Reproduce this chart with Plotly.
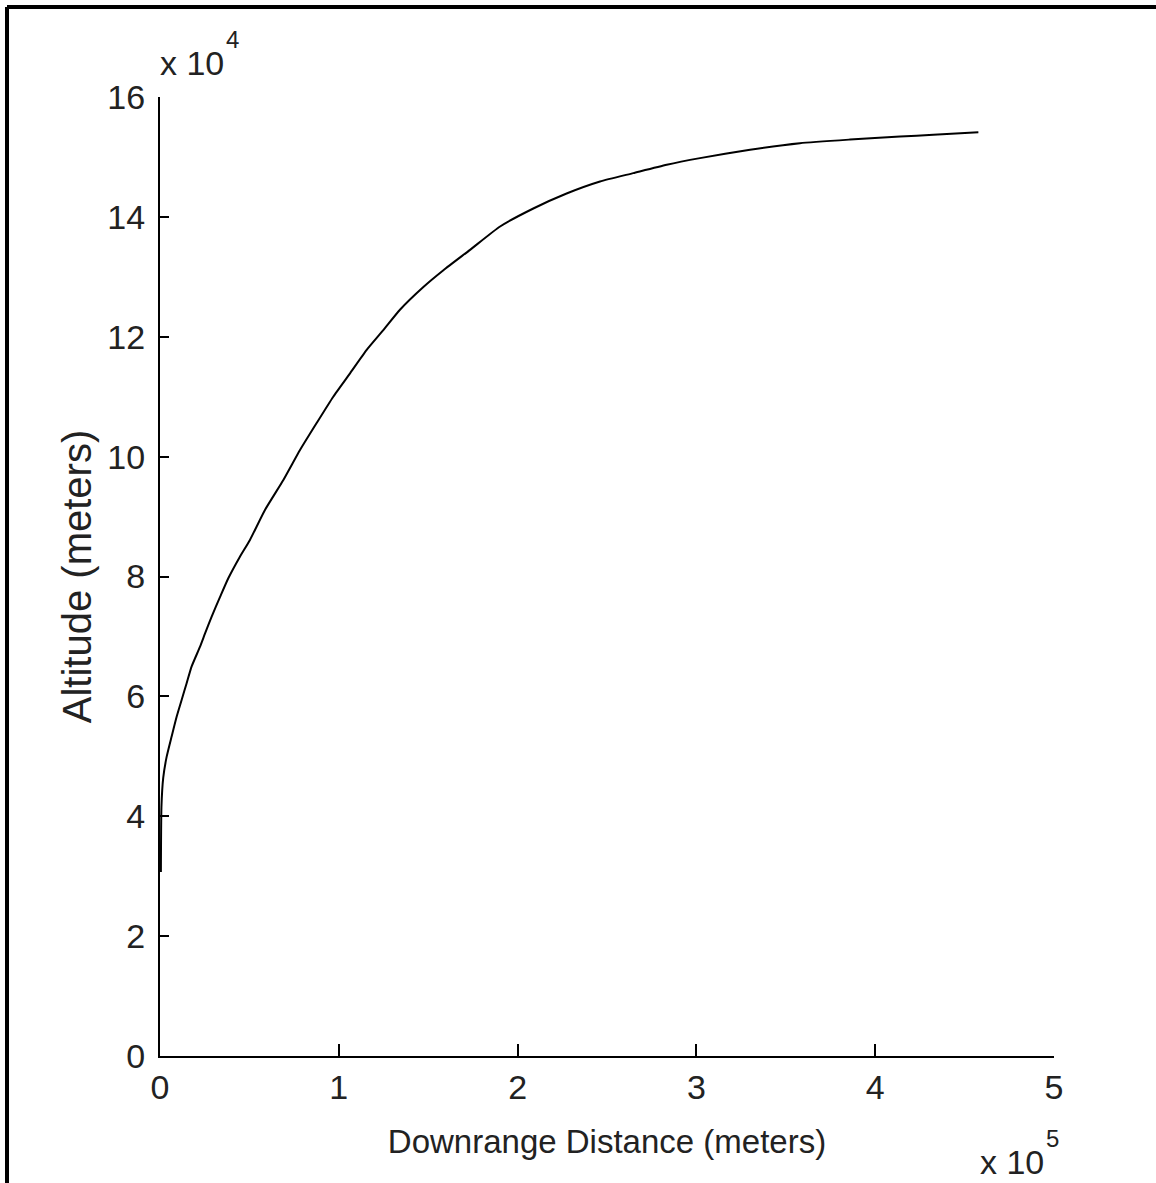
import plotly.graph_objects as go

# Trajectory samples: downrange distance (m) and altitude (m)
downrange_m = [
    500, 800, 1800, 3700, 6500, 9300, 12100, 14900, 17700, 22400, 25200,
    28900, 33600, 38200, 44700, 50300, 58700, 69000, 78300, 87600, 96900,
    106300, 115600, 124900, 134200, 147300, 158500, 173400, 190200, 208800,
    227400, 246100, 264700, 283400, 302000, 330000, 357900, 385900, 413900,
    432500, 457700,
]
altitude_m = [
    30700, 41500, 46400, 49900, 53300, 56600, 59400, 62200, 65000, 68300, 70500,
    73300, 76600, 79700, 83300, 86100, 91100, 96100, 101100, 105600, 110000,
    113900, 117800, 121100, 124500, 128300, 131100, 134500, 138400, 141400,
    143900, 145900, 147300, 148700, 149800, 151200, 152300, 152900, 153400,
    153700, 154100,
]

x_tick_vals = [0, 100000, 200000, 300000, 400000, 500000]
x_tick_text = ["0", "1", "2", "3", "4", "5"]
y_tick_vals = [0, 20000, 40000, 60000, 80000, 100000, 120000, 140000, 160000]
y_tick_text = ["0", "2", "4", "6", "8", "10", "12", "14", "16"]

FONT = "Liberation Sans, Arial, sans-serif"
TEXT = "#222222"

fig = go.Figure(
    go.Scatter(
        x=downrange_m,
        y=altitude_m,
        mode="lines",
        line=dict(color="black", width=2, shape="spline", smoothing=0.5),
        showlegend=False,
    )
)

axis_common = dict(
    showline=True,
    linecolor="black",
    linewidth=2,
    ticks="inside",
    tickcolor="black",
    tickwidth=2,
    showgrid=False,
    zeroline=False,
    mirror=False,
    tickfont=dict(family=FONT, size=34, color=TEXT),
)

fig.update_xaxes(
    range=[0, 500000],
    tickvals=x_tick_vals,
    ticktext=x_tick_text,
    ticklen=12,
    title=dict(text="Downrange Distance (meters)", standoff=25,
               font=dict(family=FONT, size=33, color=TEXT)),
    **axis_common,
)
fig.update_yaxes(
    range=[0, 160000],
    tickvals=y_tick_vals,
    ticktext=y_tick_text,
    ticklen=9,
    ticklabelstandoff=6,
    title=dict(text="Altitude (meters)", standoff=3,
               font=dict(family=FONT, size=40, color=TEXT)),
    **axis_common,
)

L, R, T, B = 160, 102, 97, 127
W, H = 1156, 1183
pw, ph = W - L - R, H - T - B


def px_x(p):
    return (p - L) / pw


def px_y(p):
    return (H - B - p) / ph


# Axis scale multipliers (base and exponent drawn separately)
for text, x, y, size in [
    ("x 10", 158, 63, 34),
    ("4", 224, 40, 24),
    ("x 10", 978, 1162, 34),
    ("5", 1044, 1138, 24),
]:
    fig.add_annotation(
        text=text, xref="paper", yref="paper",
        x=px_x(x), y=px_y(y), xanchor="left", yanchor="middle",
        showarrow=False, font=dict(family=FONT, size=size, color=TEXT),
    )

# Frame lines along the top and left edges of the page
fx, fy = px_x(7), px_y(7)
fig.add_shape(type="line", xref="paper", yref="paper",
              x0=fx, x1=px_x(W + 20), y0=fy, y1=fy,
              line=dict(color="black", width=4))
fig.add_shape(type="line", xref="paper", yref="paper",
              x0=fx, x1=fx, y0=fy, y1=px_y(H + 20),
              line=dict(color="black", width=4))

fig.update_layout(
    width=W,
    height=H,
    margin=dict(l=L, r=R, t=T, b=B),
    plot_bgcolor="white",
    paper_bgcolor="white",
)

fig.write_html("out.html")
